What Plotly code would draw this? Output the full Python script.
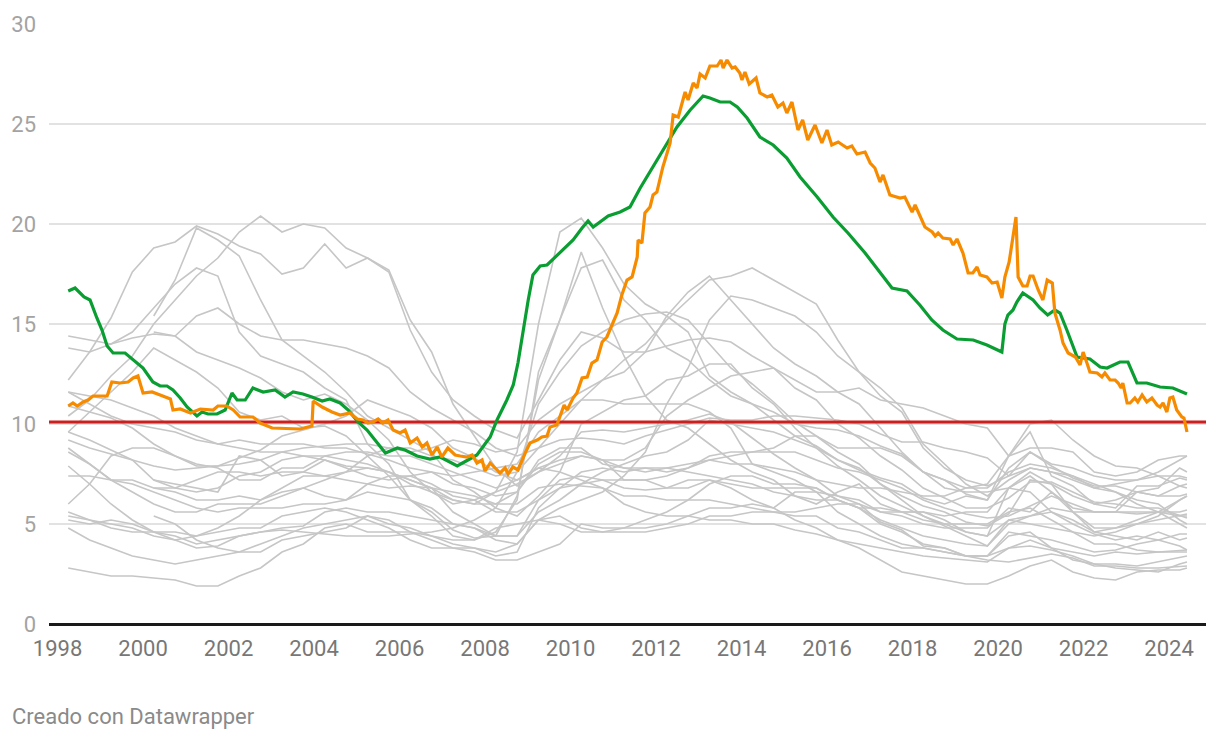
import plotly.graph_objects as go

# ---------------- data ----------------
# highlighted series (decimal years, %)
GR_YEARS = [1998.25, 1998.36, 1998.46, 1998.60, 1998.71, 1998.83, 1999.16, 1999.27, 1999.46, 1999.65,
            1999.77, 1999.88, 2000.00, 2000.21, 2000.40, 2000.64, 2000.70, 2000.87, 2001.11, 2001.34,
            2001.64, 2001.75, 2001.96, 2002.11, 2002.27, 2002.57, 2002.74, 2003.02, 2003.67, 2003.95,
            2003.98, 2004.19, 2004.42, 2004.61, 2004.84, 2005.01, 2005.15, 2005.26, 2005.38, 2005.50,
            2005.61, 2005.73, 2005.85, 2006.01, 2006.13, 2006.25, 2006.41, 2006.53, 2006.64, 2006.76,
            2006.88, 2006.99, 2007.13, 2007.30, 2007.42, 2007.58, 2007.70, 2007.81, 2007.93, 2008.00,
            2008.12, 2008.23, 2008.35, 2008.47, 2008.54, 2008.65, 2008.77, 2008.94, 2009.05, 2009.22,
            2009.33, 2009.45, 2009.52, 2009.68, 2009.75, 2009.85, 2009.92, 2010.06, 2010.15, 2010.27,
            2010.39, 2010.50, 2010.62, 2010.74, 2010.85, 2010.97, 2011.09, 2011.20, 2011.32, 2011.44,
            2011.56, 2011.58, 2011.67, 2011.74, 2011.86, 2011.93, 2012.02, 2012.16, 2012.33, 2012.40,
            2012.52, 2012.68, 2012.75, 2012.87, 2012.96, 2013.03, 2013.15, 2013.26, 2013.43, 2013.52,
            2013.57, 2013.66, 2013.78, 2013.85, 2013.96, 2014.01, 2014.08, 2014.18, 2014.34, 2014.43,
            2014.60, 2014.71, 2014.85, 2014.97, 2015.06, 2015.18, 2015.32, 2015.43, 2015.55, 2015.72,
            2015.88, 2016.00, 2016.11, 2016.26, 2016.47, 2016.58, 2016.70, 2016.89, 2017.01, 2017.12,
            2017.24, 2017.31, 2017.47, 2017.71, 2017.82, 2017.99, 2018.06, 2018.29, 2018.46, 2018.53,
            2018.60, 2018.71, 2018.88, 2018.95, 2019.04, 2019.18, 2019.30, 2019.41, 2019.51, 2019.58,
            2019.74, 2019.86, 2019.98, 2020.09, 2020.16, 2020.26, 2020.42, 2020.47, 2020.58, 2020.68,
            2020.75, 2020.82, 2020.94, 2021.05, 2021.15, 2021.27, 2021.33, 2021.45, 2021.52, 2021.64,
            2021.81, 2021.92, 2021.99, 2022.08, 2022.15, 2022.32, 2022.43, 2022.50, 2022.62, 2022.74,
            2022.81, 2022.88, 2022.92, 2023.02, 2023.09, 2023.20, 2023.27, 2023.37, 2023.48, 2023.60,
            2023.72, 2023.79, 2023.86, 2023.95, 2024.02, 2024.09, 2024.18, 2024.30, 2024.35, 2024.42]
GR_VALUES = [10.9, 11.05, 10.9, 11.1, 11.2, 11.4, 11.4, 12.1, 12.05, 12.1,
             12.3, 12.4, 11.55, 11.6, 11.45, 11.25, 10.7, 10.75, 10.55, 10.75,
             10.7, 10.9, 10.9, 10.7, 10.35, 10.35, 10.05, 9.8, 9.75, 9.9,
             11.15, 10.85, 10.6, 10.45, 10.55, 10.25, 10.2, 10.05, 10.1, 10.25,
             10.05, 10.2, 9.7, 9.55, 9.7, 9.05, 9.3, 8.85, 9.05, 8.45,
             8.85, 8.35, 8.8, 8.45, 8.4, 8.35, 8.45, 8.05, 8.2, 7.65,
             8.05, 7.8, 7.55, 7.8, 7.5, 7.85, 7.7, 8.55, 9.05, 9.2,
             9.35, 9.4, 9.85, 9.95, 10.35, 10.95, 10.7, 11.3, 11.55, 12.3,
             12.35, 13.05, 13.2, 14.1, 14.35, 15.0, 15.55, 16.45, 17.2, 17.35,
             18.35, 19.2, 19.05, 20.55, 20.85, 21.45, 21.6, 22.85, 24.05, 25.45,
             25.35, 26.6, 26.2, 27.05, 26.8, 27.5, 27.3, 27.9, 27.9, 28.2,
             27.8, 28.2, 27.8, 27.85, 27.55, 27.2, 27.6, 27.0, 27.3, 26.55,
             26.35, 26.45, 25.85, 26.05, 25.55, 26.1, 24.7, 25.2, 24.2, 24.95,
             24.05, 24.7, 23.95, 24.1, 23.8, 23.9, 23.5, 23.6, 23.05, 22.8,
             22.1, 22.45, 21.45, 21.3, 21.35, 20.6, 20.95, 19.85, 19.6, 19.4,
             19.55, 19.3, 19.25, 18.95, 19.25, 18.55, 17.55, 17.55, 17.85, 17.45,
             17.35, 17.05, 17.1, 16.3, 17.35, 18.1, 20.35, 17.35, 16.9, 16.9,
             17.4, 17.4, 16.7, 16.2, 17.2, 17.05, 15.55, 14.7, 14.05, 13.55,
             13.35, 12.95, 13.6, 13.05, 12.6, 12.55, 12.35, 12.55, 12.2, 12.2,
             12.05, 11.8, 12.05, 11.05, 11.05, 11.3, 11.1, 11.45, 11.1, 11.3,
             10.95, 10.85, 11.05, 10.6, 11.3, 11.35, 10.7, 10.35, 10.3, 9.6]

ES_YEARS = [1998.25, 1998.41, 1998.62, 1998.76, 1998.92, 1999.04, 1999.16, 1999.30, 1999.58, 1999.77,
            2000.00, 2000.23, 2000.40, 2000.56, 2000.70, 2000.87, 2001.03, 2001.26, 2001.38, 2001.52,
            2001.73, 2001.92, 2002.08, 2002.20, 2002.39, 2002.57, 2002.81, 2003.09, 2003.32, 2003.51,
            2003.74, 2003.95, 2004.19, 2004.37, 2004.61, 2004.80, 2005.03, 2005.24, 2005.43, 2005.67,
            2005.95, 2006.13, 2006.41, 2006.71, 2006.95, 2007.35, 2007.60, 2007.81, 2008.12, 2008.28,
            2008.51, 2008.66, 2008.77, 2008.89, 2009.01, 2009.12, 2009.29, 2009.45, 2009.75, 2010.06,
            2010.27, 2010.41, 2010.53, 2010.69, 2010.88, 2011.16, 2011.39, 2011.63, 2011.93, 2012.26,
            2012.49, 2012.80, 2013.10, 2013.26, 2013.50, 2013.73, 2013.90, 2014.13, 2014.43, 2014.74,
            2015.06, 2015.37, 2015.77, 2016.14, 2016.49, 2016.89, 2017.24, 2017.52, 2017.87, 2018.17,
            2018.45, 2018.71, 2019.04, 2019.42, 2019.74, 2020.09, 2020.16, 2020.23, 2020.35, 2020.44,
            2020.58, 2020.82, 2020.98, 2021.16, 2021.33, 2021.45, 2021.61, 2021.85, 2022.15, 2022.39,
            2022.55, 2022.85, 2023.04, 2023.25, 2023.48, 2023.79, 2024.09, 2024.42]
ES_VALUES = [16.65, 16.8, 16.35, 16.2, 15.3, 14.7, 13.9, 13.55, 13.55, 13.2,
             12.8, 12.1, 11.9, 11.9, 11.7, 11.3, 10.85, 10.4, 10.6, 10.5,
             10.5, 10.7, 11.55, 11.2, 11.2, 11.8, 11.6, 11.7, 11.35, 11.6,
             11.5, 11.35, 11.15, 11.25, 11.05, 10.7, 10.1, 9.7, 9.2, 8.55,
             8.8, 8.7, 8.4, 8.25, 8.35, 7.9, 8.2, 8.45, 9.35, 10.2,
             11.2, 11.95, 13.05, 14.7, 16.2, 17.45, 17.9, 17.95, 18.55, 19.2,
             19.8, 20.15, 19.85, 20.1, 20.4, 20.6, 20.85, 21.8, 22.85, 24.05,
             24.85, 25.7, 26.4, 26.3, 26.1, 26.1, 25.85, 25.3, 24.35, 23.95,
             23.3, 22.35, 21.35, 20.35, 19.55, 18.55, 17.6, 16.8, 16.65, 15.95,
             15.2, 14.7, 14.25, 14.2, 13.95, 13.6, 15.0, 15.45, 15.7, 16.1,
             16.55, 16.2, 15.8, 15.45, 15.7, 15.55, 14.7, 13.35, 13.25, 12.85,
             12.8, 13.1, 13.1, 12.05, 12.05, 11.85, 11.8, 11.5]

REFERENCE_LEVEL = 10.1

# other countries, half-yearly grid
GRID = [1998.25, 1998.75, 1999.25, 1999.75, 2000.25, 2000.75, 2001.25, 2001.75, 2002.25, 2002.75,
        2003.25, 2003.75, 2004.25, 2004.75, 2005.25, 2005.75, 2006.25, 2006.75, 2007.25, 2007.75,
        2008.25, 2008.75, 2009.25, 2009.75, 2010.25, 2010.75, 2011.25, 2011.75, 2012.25, 2012.75,
        2013.25, 2013.75, 2014.25, 2014.75, 2015.25, 2015.75, 2016.25, 2016.75, 2017.25, 2017.75,
        2018.25, 2018.75, 2019.25, 2019.75, 2020.25, 2020.75, 2021.25, 2021.75, 2022.25, 2022.75,
        2023.25, 2023.75, 2024.25, 2024.42]
N = None
LV = [14.4, 14.2, 14.0, 14.3, 14.5, 14.4, 13.6, 13.2, 12.8, 12.3, 11.6, 11.2, 11.5, 11.0, 10.2, 9.2, 7.6, 6.6, 6.2, 6.0,
      6.6, 8.6, 15.0, 19.6, 20.3, 18.8, 17.0, 16.0, 15.4, 14.6, 12.4, 11.6, 11.0, 10.6, 10.0, 9.8, 9.7, 9.4, 8.9, 8.5,
      7.6, 7.2, 6.5, 6.2, 7.8, 8.6, 7.9, 7.3, 6.9, 6.9, 6.6, 6.4, 6.9, 7.0]
LT = [13.8, 13.6, 14.0, 14.6, 15.8, 17.0, 17.8, 17.4, 14.6, 13.4, 13.0, 12.6, 11.8, 11.2, 9.0, 8.0, 6.2, 5.4, 4.4, 4.2,
      4.6, 6.2, 12.6, 15.2, 17.8, 18.2, 16.2, 15.2, 13.8, 13.2, 12.2, 11.4, 11.0, 10.2, 9.4, 8.9, 8.2, 7.7, 7.3, 7.0,
      6.3, 6.0, 6.4, 6.2, 8.4, 9.6, 7.4, 6.9, 6.0, 5.8, 6.9, 6.9, 7.3, 7.2]
EE = [9.6, 10.6, 11.6, 12.6, 13.8, 13.2, 12.6, 11.8, 10.6, 10.2, 10.4, 9.8, 9.9, 9.4, 8.4, 7.4, 6.2, 5.6, 4.7, 4.3,
      4.4, 6.4, 12.2, 15.2, 18.6, 15.8, 13.4, 11.4, 10.2, 9.8, 9.0, 8.2, 7.6, 7.2, 6.4, 6.0, 6.6, 7.0, 6.0, 5.6,
      5.6, 5.2, 4.6, 4.4, 6.8, 7.4, 6.6, 5.8, 5.6, 5.6, 6.6, 6.8, 7.8, 7.6]
SK = [12.2, 13.6, 15.3, 17.6, 18.8, 19.1, 19.9, 19.5, 18.9, 18.5, 17.5, 17.8, 19.0, 17.8, 18.3, 17.6, 14.7, 12.6, 11.2, 10.4,
      9.7, 9.3, 11.2, 13.2, 14.6, 14.3, 13.6, 13.6, 13.9, 14.2, 14.3, 14.1, 13.4, 12.8, 11.8, 11.2, 10.0, 9.3, 8.4, 7.7,
      6.8, 6.3, 5.8, 5.8, 6.3, 7.1, 7.1, 6.6, 6.1, 6.0, 5.8, 5.8, 5.4, 5.3]
PL = [10.4, 11.2, 12.4, 13.4, 15.0, 16.2, 17.4, 18.3, 19.6, 20.4, 19.6, 20.0, 19.8, 18.8, 18.3, 17.7, 15.2, 13.6, 11.0, 9.4,
      7.8, 6.9, 7.6, 8.4, 9.6, 9.7, 9.6, 9.8, 10.0, 10.2, 10.5, 10.1, 9.3, 8.5, 7.8, 7.2, 6.4, 6.0, 5.1, 4.7,
      3.9, 3.8, 3.4, 3.2, 3.1, 3.3, 3.5, 3.3, 2.9, 2.9, 2.8, 2.8, 2.9, 2.9]
BG = [N, N, N, N, 15.4, 17.2, 19.8, 19.2, 18.4, 16.2, 14.2, 13.4, 12.6, 11.6, 10.4, 9.8, 9.2, 8.6, 7.2, 6.6,
      5.8, 5.4, 6.4, 7.6, 10.0, 10.6, 11.2, 11.4, 12.2, 12.4, 13.0, 13.0, 11.8, 11.0, 9.8, 8.8, 7.9, 7.2, 6.4, 5.9,
      5.4, 4.9, 4.4, 3.9, 5.0, 5.4, 5.6, 5.0, 4.5, 4.2, 4.4, 4.2, 3.9, 3.7]
HR = [N, N, N, N, 14.6, 14.4, 15.4, 15.8, 15.0, 14.4, 14.2, 14.2, 14.0, 13.8, 13.4, 12.8, 11.6, 10.8, 10.2, 9.6,
      8.8, 8.4, 8.8, 10.0, 11.2, 12.2, 13.2, 14.0, 15.2, 16.2, 17.2, 17.4, 17.8, 17.2, 16.6, 16.0, 14.2, 12.6, 11.8, 10.8,
      9.0, 8.0, 7.0, 6.4, 7.2, 7.8, 7.6, 7.4, 7.0, 6.6, 6.2, 6.0, 5.2, 5.0]
CY = [N, N, N, N, 5.4, 5.0, 4.2, 3.8, 3.6, 3.6, 4.2, 4.4, 4.6, 4.8, 5.4, 5.0, 4.8, 4.4, 4.0, 3.8,
      3.6, 4.0, 5.2, 5.8, 6.2, 6.6, 7.4, 8.6, 11.0, 12.8, 15.2, 16.4, 16.2, 15.8, 15.4, 14.6, 13.4, 12.6, 11.4, 10.6,
      8.8, 7.8, 7.2, 6.9, 7.4, 7.8, 7.6, 7.2, 6.8, 6.6, 6.0, 5.6, 5.0, 4.8]
PT = [5.6, 5.2, 5.0, 4.8, 4.4, 4.2, 4.4, 4.8, 5.4, 6.2, 6.8, 7.4, 7.4, 7.6, 8.4, 8.8, 8.6, 8.8, 9.2, 9.0,
      8.6, 8.8, 10.2, 11.0, 11.6, 12.2, 12.6, 13.6, 15.4, 16.6, 17.4, 16.2, 15.0, 13.8, 13.0, 12.4, 11.6, 11.0, 9.8, 8.6,
      7.6, 6.8, 6.6, 6.6, 6.8, 7.6, 7.0, 6.4, 6.0, 6.2, 6.6, 6.4, 6.4, 6.5]
IT = [11.6, 11.4, 11.2, 10.8, 10.4, 9.8, 9.4, 9.0, 8.8, 8.6, 8.6, 8.4, 8.2, 7.9, 7.8, 7.6, 7.0, 6.6, 6.0, 6.2,
      6.6, 7.0, 7.6, 8.0, 8.4, 8.2, 8.2, 8.8, 10.4, 11.2, 11.8, 12.4, 12.6, 12.8, 12.2, 11.6, 11.6, 11.8, 11.2, 11.0,
      10.8, 10.4, 10.0, 9.8, 8.4, 10.0, 10.2, 9.2, 8.4, 7.9, 7.8, 7.4, 6.9, 6.8]
FI = [11.6, 11.0, 10.4, 10.0, 9.8, 9.6, 9.2, 9.0, 9.2, 9.0, 9.0, 9.0, 8.8, 8.8, 8.5, 8.2, 7.8, 7.6, 7.0, 6.8,
      6.4, 6.6, 8.0, 8.6, 8.6, 8.2, 7.8, 7.8, 7.6, 7.8, 8.2, 8.4, 8.6, 8.8, 9.4, 9.4, 8.8, 8.8, 8.8, 8.4,
      7.6, 7.2, 6.8, 6.8, 7.6, 8.0, 7.8, 7.4, 6.8, 7.0, 7.2, 7.6, 8.2, 8.4]
FR = [10.9, 10.6, 10.3, 9.8, 9.0, 8.4, 7.9, 7.9, 8.0, 8.2, 8.6, 8.8, 8.9, 9.0, 9.0, 8.8, 8.8, 8.4, 8.2, 7.8,
      7.4, 7.6, 8.8, 9.2, 9.3, 9.2, 9.0, 9.4, 9.7, 10.0, 10.3, 10.2, 10.2, 10.4, 10.4, 10.3, 10.2, 10.0, 9.5, 9.1,
      9.1, 8.8, 8.6, 8.3, 7.4, 8.6, 8.0, 7.8, 7.4, 7.2, 7.2, 7.4, 7.4, 7.3]
DE = [9.2, 8.8, 8.5, 8.2, 7.9, 7.7, 7.8, 7.9, 8.3, 8.7, 9.4, 9.7, 10.0, 10.4, 11.2, 10.8, 10.4, 9.8, 8.8, 8.3,
      7.6, 7.2, 7.8, 7.6, 7.2, 6.8, 6.0, 5.6, 5.4, 5.4, 5.2, 5.2, 5.0, 5.0, 4.7, 4.5, 4.2, 4.0, 3.8, 3.6,
      3.4, 3.3, 3.2, 3.1, 3.8, 3.9, 3.7, 3.4, 3.0, 3.0, 2.9, 3.1, 3.3, 3.4]
BE = [9.6, 9.2, 8.7, 8.2, 7.2, 6.8, 6.6, 6.8, 7.4, 7.6, 8.2, 8.4, 8.4, 8.6, 8.6, 8.4, 8.4, 8.0, 7.6, 7.2,
      6.8, 7.2, 7.8, 8.2, 8.4, 8.2, 7.2, 7.2, 7.4, 7.8, 8.4, 8.6, 8.6, 8.6, 8.6, 8.2, 7.8, 7.6, 7.2, 6.8,
      6.2, 5.8, 5.5, 5.3, 5.4, 5.9, 6.4, 6.0, 5.6, 5.6, 5.5, 5.6, 5.6, 5.7]
HU = [8.8, 8.0, 7.2, 7.0, 6.6, 6.2, 5.8, 5.6, 5.8, 5.8, 5.8, 6.0, 6.0, 6.2, 7.0, 7.4, 7.4, 7.6, 7.4, 7.6,
      7.8, 8.0, 9.6, 10.4, 11.2, 11.2, 11.0, 11.0, 11.0, 11.0, 10.6, 9.8, 8.0, 7.6, 7.2, 6.6, 5.6, 5.0, 4.4, 4.0,
      3.8, 3.6, 3.4, 3.4, 4.6, 4.4, 4.2, 3.9, 3.6, 3.7, 4.0, 4.2, 4.5, 4.5]
SE = [8.6, 8.0, 7.2, 6.6, 6.0, 5.6, 5.6, 6.0, 6.0, 6.0, 6.4, 6.8, 7.2, 7.6, 7.8, 7.6, 7.2, 6.8, 6.2, 6.0,
      6.0, 6.6, 8.2, 8.8, 8.8, 8.0, 7.8, 7.6, 7.8, 8.0, 8.2, 8.0, 8.0, 7.8, 7.6, 7.2, 7.0, 6.8, 6.8, 6.6,
      6.4, 6.4, 6.8, 7.0, 8.4, 8.8, 8.8, 8.6, 7.6, 7.4, 7.6, 8.2, 8.4, 8.4]
IE = [7.9, 7.0, 6.0, 5.2, 4.6, 4.2, 3.8, 3.9, 4.4, 4.6, 4.7, 4.6, 4.5, 4.4, 4.4, 4.4, 4.5, 4.6, 4.8, 5.2,
      5.8, 7.6, 11.0, 12.6, 13.9, 14.6, 15.2, 15.5, 15.6, 15.2, 14.0, 12.8, 12.0, 11.1, 10.1, 9.4, 8.6, 8.0, 7.0, 6.4,
      5.9, 5.6, 5.1, 4.9, 5.5, 7.2, 7.0, 5.6, 4.6, 4.4, 4.2, 4.6, 4.2, 4.3]
SI = [7.4, 7.4, 7.2, 7.2, 6.8, 6.6, 6.2, 6.2, 6.4, 6.2, 6.6, 6.8, 6.4, 6.2, 6.6, 6.4, 6.2, 5.8, 5.0, 4.8,
      4.4, 4.4, 5.6, 6.2, 7.0, 7.6, 8.0, 8.4, 8.6, 9.2, 10.2, 10.0, 9.8, 9.6, 9.2, 8.8, 8.2, 7.8, 7.0, 6.2,
      5.4, 5.0, 4.6, 4.4, 5.2, 5.0, 4.8, 4.6, 4.0, 4.0, 3.7, 3.6, 3.6, 3.6]
CZ = [6.0, 7.0, 8.4, 8.8, 8.8, 8.4, 8.0, 7.8, 7.2, 7.2, 7.8, 7.8, 8.4, 8.2, 8.0, 7.6, 7.2, 6.8, 5.6, 5.0,
      4.4, 4.4, 6.2, 7.2, 7.4, 7.2, 6.8, 6.7, 6.8, 7.2, 7.2, 6.8, 6.2, 5.8, 5.2, 4.8, 4.2, 3.8, 3.2, 2.6,
      2.4, 2.2, 2.0, 2.0, 2.4, 2.9, 3.2, 2.6, 2.3, 2.2, 2.6, 2.7, 2.7, 2.8]
AT = [5.4, 5.2, 4.8, 4.6, 4.6, 4.4, 4.0, 4.2, 4.4, 4.6, 4.8, 4.9, 5.6, 5.8, 5.6, 5.6, 5.4, 5.2, 5.0, 4.8,
      4.2, 4.0, 5.2, 5.4, 4.8, 4.6, 4.6, 4.6, 4.8, 5.0, 5.4, 5.4, 5.6, 5.6, 5.6, 5.8, 6.0, 6.0, 5.6, 5.4,
      5.0, 4.8, 4.8, 4.8, 5.8, 5.6, 6.6, 5.6, 4.8, 4.8, 5.0, 5.2, 5.4, 5.5]
DK = [5.2, 5.0, 5.2, 5.0, 4.6, 4.6, 4.4, 4.6, 4.8, 4.8, 5.4, 5.6, 5.8, 5.6, 5.2, 4.8, 4.2, 3.8, 3.8, 3.8,
      3.4, 3.6, 5.8, 6.8, 7.6, 7.8, 7.6, 7.8, 7.8, 7.6, 7.4, 7.2, 7.0, 6.6, 6.4, 6.2, 6.2, 5.8, 5.8, 5.6,
      5.2, 5.0, 5.0, 5.0, 5.6, 5.8, 5.2, 4.6, 4.4, 4.6, 5.0, 5.4, 6.2, 6.4]
NL = [4.8, 4.2, 3.8, 3.4, 3.2, 3.0, 3.2, 3.4, 3.6, 4.0, 4.4, 4.8, 5.0, 5.2, 5.4, 5.2, 4.6, 4.2, 3.8, 3.6,
      3.2, 3.2, 3.6, 4.0, 5.0, 4.8, 4.8, 5.2, 5.6, 6.2, 7.0, 7.4, 7.4, 7.0, 7.0, 6.8, 6.2, 5.8, 5.0, 4.6,
      4.0, 3.8, 3.4, 3.4, 3.8, 4.2, 3.8, 3.6, 3.4, 3.6, 3.5, 3.6, 3.7, 3.7]
LU = [2.8, 2.6, 2.4, 2.4, 2.3, 2.2, 1.9, 1.9, 2.4, 2.8, 3.6, 4.0, 4.8, 5.0, 4.6, 4.6, 4.6, 4.4, 4.2, 4.2,
      4.8, 5.0, 5.2, 5.0, 4.6, 4.6, 4.8, 4.8, 5.0, 5.4, 5.8, 5.8, 6.0, 5.8, 6.6, 6.6, 6.4, 6.2, 5.6, 5.6,
      5.6, 5.4, 5.6, 5.6, 6.8, 6.6, 5.6, 5.2, 4.6, 4.8, 5.2, 5.6, 6.2, 6.4]
MT = [N, N, N, N, 6.8, 6.8, 7.2, 7.6, 7.6, 7.4, 7.6, 7.6, 7.4, 7.2, 7.0, 6.8, 6.9, 6.8, 6.6, 6.4,
      6.0, 6.0, 6.8, 7.0, 6.9, 6.8, 6.4, 6.4, 6.2, 6.2, 6.2, 6.0, 5.8, 5.6, 5.4, 5.4, 4.8, 4.6, 4.2, 3.8,
      3.8, 3.6, 3.4, 3.4, 4.4, 4.6, 3.8, 3.2, 3.0, 2.8, 2.7, 2.6, 3.0, 3.1]
RO = [N, N, N, N, 7.2, 7.0, 6.8, 6.6, 8.4, 8.2, 7.4, 7.6, 8.2, 7.8, 7.4, 7.2, 7.4, 7.0, 6.4, 6.2,
      5.6, 5.6, 6.2, 6.8, 7.0, 7.2, 7.2, 7.2, 6.8, 6.8, 7.2, 7.0, 6.8, 6.8, 6.8, 6.8, 6.2, 5.8, 5.2, 4.8,
      4.4, 4.2, 4.0, 3.9, 5.2, 5.4, 5.8, 5.6, 5.6, 5.6, 5.6, 5.6, 5.4, 5.4]

OTHER_COUNTRIES = {
    "Letonia": LV, "Lituania": LT, "Estonia": EE, "Eslovaquia": SK, "Polonia": PL,
    "Bulgaria": BG, "Croacia": HR, "Chipre": CY, "Portugal": PT, "Italia": IT,
    "Finlandia": FI, "Francia": FR, "Alemania": DE, "Bélgica": BE, "Hungría": HU,
    "Suecia": SE, "Irlanda": IE, "Eslovenia": SI, "Chequia": CZ, "Austria": AT,
    "Dinamarca": DK, "Países Bajos": NL, "Luxemburgo": LU, "Malta": MT, "Rumanía": RO,
}

X_TICKS = [1998, 2000, 2002, 2004, 2006, 2008, 2010, 2012, 2014, 2016, 2018, 2020, 2022, 2024]
Y_TICKS = [0, 5, 10, 15, 20, 25, 30]
X_RANGE = [1997.80, 2024.865]
Y_RANGE = [0, 30]

# ---------------- styling ----------------
GRAY = "#c6c6c6"
ORANGE = "#f78b00"
GREEN = "#0a9e32"
RED = "#cc1f1f"
FONT = "Roboto"

fig = go.Figure()

for name, vals in OTHER_COUNTRIES.items():
    fig.add_trace(go.Scatter(x=GRID, y=vals, mode="lines", name=name,
                             line=dict(color=GRAY, width=1.6), connectgaps=False,
                             hoverinfo="skip", showlegend=False))

fig.add_trace(go.Scatter(x=X_RANGE, y=[REFERENCE_LEVEL, REFERENCE_LEVEL], mode="lines",
                         line=dict(color=RED, width=3), hoverinfo="skip", showlegend=False))

fig.add_trace(go.Scatter(x=ES_YEARS, y=ES_VALUES, mode="lines", name="España",
                         line=dict(color=GREEN, width=3.2), showlegend=False))
fig.add_trace(go.Scatter(x=GR_YEARS, y=GR_VALUES, mode="lines", name="Grecia",
                         line=dict(color=ORANGE, width=3.2), showlegend=False))

fig.update_layout(
    width=1212, height=732,
    margin=dict(l=41, r=14, t=16, b=116),
    paper_bgcolor="white", plot_bgcolor="white",
    font=dict(family=FONT, size=22, color="#7a7a7a"),
    showlegend=False,
    xaxis=dict(range=X_RANGE, tickvals=X_TICKS, ticktext=[str(t) for t in X_TICKS],
               showgrid=False, zeroline=False, showline=False, ticks="", automargin=False,
               tickfont=dict(family=FONT, size=22, color="#777777"), ticklabelstandoff=9),
    yaxis=dict(range=Y_RANGE, tickvals=Y_TICKS, ticktext=[str(t) for t in Y_TICKS],
               showgrid=True, gridcolor="#e2e2e2", gridwidth=1.5, zeroline=True,
               zerolinecolor="#1a1a1a", zerolinewidth=2.5, showline=False, ticks="", automargin=False,
               tickfont=dict(family=FONT, size=22, color="#a3a3a3"), ticklabelstandoff=12),
    annotations=[dict(text="Creado con Datawrapper", xref="paper", yref="paper",
                      x=-39 / 1157, y=-92 / 600, xanchor="left", yanchor="middle", showarrow=False,
                      font=dict(family=FONT, size=22, color="#8a8a8a"))],
)

fig.write_html("out.html")
